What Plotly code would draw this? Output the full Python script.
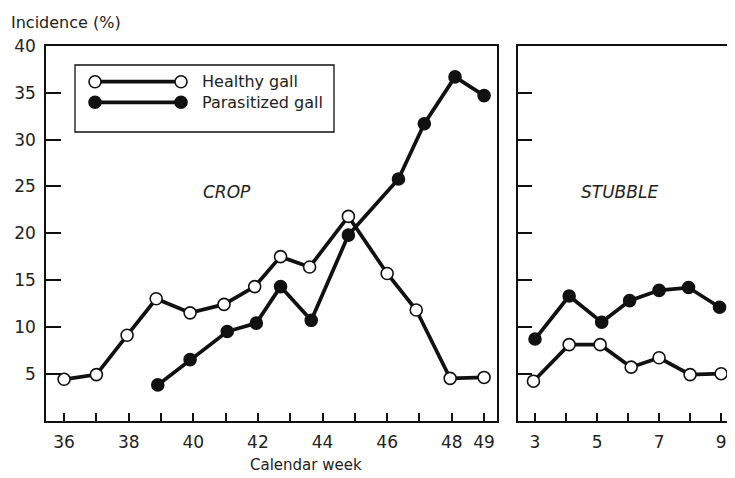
import plotly.graph_objects as go

# ---- data ----
crop_weeks_healthy = [36.0, 37.0, 37.95, 38.85, 39.9, 40.95, 41.9, 42.7, 43.6, 44.8, 46.0, 46.9, 47.95, 49.0]
crop_healthy = [4.4, 4.9, 9.1, 13.0, 11.5, 12.4, 14.3, 17.5, 16.4, 21.8, 15.7, 11.8, 4.5, 4.6]
crop_weeks_paras = [38.9, 39.9, 41.05, 41.95, 42.7, 43.65, 44.8, 46.35, 47.15, 48.1, 49.0]
crop_paras = [3.8, 6.5, 9.5, 10.4, 14.3, 10.7, 19.8, 25.8, 31.7, 36.7, 34.7]

stub_weeks_healthy = [2.95, 4.1, 5.1, 6.1, 7.0, 8.0, 9.0]
stub_healthy = [4.2, 8.1, 8.1, 5.7, 6.7, 4.9, 5.0]
stub_weeks_paras = [3.0, 4.1, 5.15, 6.05, 7.0, 7.95, 8.95]
stub_paras = [8.7, 13.3, 10.5, 12.8, 13.9, 14.2, 12.1]

crop_tickvals = list(range(36, 50))
crop_ticktext = ["36", "", "38", "", "40", "", "42", "", "44", "", "46", "", "48", "49"]
stub_tickvals = list(range(3, 10))
stub_ticktext = ["3", "", "5", "", "7", "", "9"]
y_tickvals = [5, 10, 15, 20, 25, 30, 35, 40]

series_names = ["Healthy gall", "Parasitized gall"]

# ---- styles ----
PAGE_W, PAGE_H = 735, 478
OFF = 8  # page body margin
W, H = PAGE_W - OFF, PAGE_H - OFF
INK = "#111111"
TXT = "#222222"
FONT = "DejaVu Sans"
LW = 3.7
MS = 12


def px(x):
    return (x - OFF) / W


def py(y):
    return 1 - (y - OFF) / H


fig = go.Figure()

open_marker = dict(symbol="circle", size=MS, color="white", line=dict(color=INK, width=1.6))
filled_marker = dict(symbol="circle", size=MS, color=INK, line=dict(color=INK, width=1.6))

fig.add_trace(go.Scatter(x=crop_weeks_paras, y=crop_paras, mode="lines+markers",
                         line=dict(color=INK, width=LW), marker=filled_marker,
                         name=series_names[1], xaxis="x", yaxis="y", showlegend=False))
fig.add_trace(go.Scatter(x=crop_weeks_healthy, y=crop_healthy, mode="lines+markers",
                         line=dict(color=INK, width=LW), marker=open_marker,
                         name=series_names[0], xaxis="x", yaxis="y", showlegend=False))
fig.add_trace(go.Scatter(x=stub_weeks_paras, y=stub_paras, mode="lines+markers",
                         line=dict(color=INK, width=LW), marker=filled_marker,
                         name=series_names[1], xaxis="x2", yaxis="y2", showlegend=False))
fig.add_trace(go.Scatter(x=stub_weeks_healthy, y=stub_healthy, mode="lines+markers",
                         line=dict(color=INK, width=LW), marker=open_marker,
                         name=series_names[0], xaxis="x2", yaxis="y2", showlegend=False))

ydom = [py(420.5), py(46)]
axis_common = dict(showgrid=False, zeroline=False, showline=True, linecolor=INK, linewidth=1.5,
                   ticks="inside", tickcolor=INK, tickwidth=1.5,
                   tickfont=dict(family=FONT, size=17, color=TXT))

fig.update_layout(
    width=W, height=H,
    margin=dict(l=0, r=0, t=0, b=0),
    paper_bgcolor="white", plot_bgcolor="white",
    showlegend=False,
    xaxis=dict(domain=[px(46), px(497)], range=[35.44, 49.4], tickmode="array",
               tickvals=crop_tickvals, ticktext=crop_ticktext, ticklen=8, mirror=True,
               ticklabelstandoff=5, anchor="y", automargin=False, **axis_common),
    yaxis=dict(domain=ydom, range=[0, 40], tickmode="array", tickvals=y_tickvals,
               ticklen=15, mirror=True, ticklabelstandoff=5, anchor="x", automargin=False,
               **axis_common),
    xaxis2=dict(domain=[px(517.5), px(727)], range=[2.435, 9.19], tickmode="array",
                tickvals=stub_tickvals, ticktext=stub_ticktext, ticklen=8, mirror=True,
                ticklabelstandoff=5, anchor="y2", automargin=False, **axis_common),
    yaxis2=dict(domain=ydom, range=[0, 40], tickmode="array", tickvals=y_tickvals[:-1],
                showticklabels=False, ticklen=15, mirror=False, anchor="x2",
                automargin=False, **axis_common),
)

# axis titles and panel labels
fig.add_annotation(text="Incidence (%)", xref="paper", yref="paper", x=px(9), y=py(22),
                   xanchor="left", yanchor="middle", showarrow=False,
                   font=dict(family=FONT, size=16, color=TXT))
fig.add_annotation(text="Calendar week", xref="paper", yref="paper", x=px(306), y=py(465),
                   xanchor="center", yanchor="middle", showarrow=False,
                   font=dict(family=FONT, size=15, color=TXT))
fig.add_annotation(text="<i>CROP</i>", xref="paper", yref="paper", x=px(227), y=py(192),
                   xanchor="center", yanchor="middle", showarrow=False,
                   font=dict(family=FONT, size=17, color=TXT))
fig.add_annotation(text="<i>STUBBLE</i>", xref="paper", yref="paper", x=px(619), y=py(192),
                   xanchor="center", yanchor="middle", showarrow=False,
                   font=dict(family=FONT, size=17, color=TXT))

# hand-drawn legend box
fig.add_shape(type="rect", xref="paper", yref="paper", x0=px(75), x1=px(334), y0=py(132), y1=py(65),
              line=dict(color=INK, width=1.3), fillcolor="white")
for i, (yy, fill) in enumerate([(81.7, "white"), (102.3, INK)]):
    fig.add_shape(type="line", xref="paper", yref="paper", x0=px(95), x1=px(181), y0=py(yy), y1=py(yy),
                  line=dict(color=INK, width=LW))
    for xx in (95, 181):
        fig.add_shape(type="circle", xref="paper", yref="paper", xsizemode="pixel", ysizemode="pixel",
                      xanchor=px(xx), yanchor=py(yy), x0=-6, x1=6, y0=-6, y1=6,
                      line=dict(color=INK, width=1.6), fillcolor=fill)
    fig.add_annotation(text=series_names[i], xref="paper", yref="paper", x=px(200), y=py(yy),
                       xanchor="left", yanchor="middle", showarrow=False,
                       font=dict(family=FONT, size=16, color=TXT))

fig.write_html("out.html")
